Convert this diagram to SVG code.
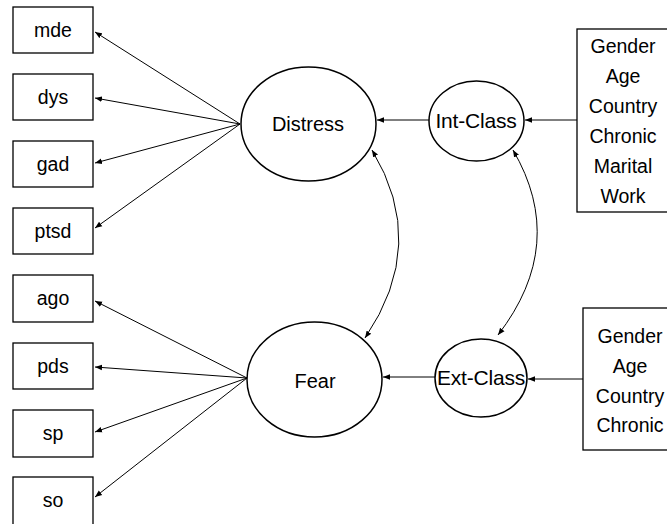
<svg xmlns="http://www.w3.org/2000/svg" width="667" height="524" viewBox="0 0 667 524">
  <defs>
    <marker id="ah" viewBox="0 0 10 10" refX="10" refY="5" markerWidth="7" markerHeight="7" markerUnits="userSpaceOnUse" orient="auto-start-reverse">
      <path d="M0,1 L10,5 L0,9 Z" fill="#000"/>
    </marker>
    <style>
      .box { fill: #fff; stroke: #000; stroke-width: 1.3; }
      .lat { fill: #fff; stroke: #000; stroke-width: 1.5; }
      .lbl { font-family: "Liberation Sans", Arial, sans-serif; font-size: 19.5px; fill: #000; text-anchor: middle; }
      .big { font-size: 20px; }
      .cls { font-size: 21px; letter-spacing: -0.2px; }
      .edge { fill: none; stroke: #000; stroke-width: 1; marker-end: url(#ah); }
      .both { marker-start: url(#ah); }
    </style>
  </defs>

  <!-- connectors -->
  <g id="connectors">
    <line class="edge" x1="240" y1="124" x2="95" y2="32"/>
    <line class="edge" x1="240" y1="124" x2="95" y2="98"/>
    <line class="edge" x1="240" y1="124" x2="95" y2="163"/>
    <line class="edge" x1="240" y1="124" x2="95" y2="228"/>
    <line class="edge" x1="247" y1="378" x2="95" y2="301"/>
    <line class="edge" x1="247" y1="378" x2="95" y2="367"/>
    <line class="edge" x1="247" y1="378" x2="95" y2="432"/>
    <line class="edge" x1="247" y1="378" x2="95" y2="497"/>
    <line class="edge" x1="429" y1="120" x2="377" y2="120"/>
    <line class="edge" x1="435" y1="377" x2="383" y2="377"/>
    <line class="edge" x1="577" y1="120" x2="525" y2="120"/>
    <line class="edge" x1="583" y1="379" x2="528" y2="379"/>
    <path class="edge both" d="M372,150 Q429,244 365,338"/>
    <path class="edge both" d="M513,150 Q568,244 498,335"/>
  </g>

  <!-- observed indicators -->
  <g id="mde"><rect class="box" x="13" y="7" width="80" height="46"/><text class="lbl" x="53" y="37">mde</text></g>
  <g id="dys"><rect class="box" x="13" y="74" width="80" height="46"/><text class="lbl" x="53" y="104">dys</text></g>
  <g id="gad"><rect class="box" x="13" y="141" width="80" height="46"/><text class="lbl" x="53" y="171">gad</text></g>
  <g id="ptsd"><rect class="box" x="13" y="208" width="80" height="46"/><text class="lbl" x="53" y="238">ptsd</text></g>
  <g id="ago"><rect class="box" x="13" y="275" width="80" height="47"/><text class="lbl" x="53" y="305">ago</text></g>
  <g id="pds"><rect class="box" x="13" y="343" width="80" height="46"/><text class="lbl" x="53" y="373">pds</text></g>
  <g id="sp"><rect class="box" x="13" y="410" width="80" height="47"/><text class="lbl" x="53" y="440">sp</text></g>
  <g id="so"><rect class="box" x="13" y="477" width="80" height="50"/><text class="lbl" x="53" y="507">so</text></g>

  <!-- latent factors -->
  <g id="distress"><ellipse class="lat" cx="308.5" cy="124" rx="67.5" ry="57"/><text class="lbl big" x="308" y="131">Distress</text></g>
  <g id="fear"><ellipse class="lat" cx="314.5" cy="379.5" rx="67.5" ry="57.5"/><text class="lbl big" x="315" y="388">Fear</text></g>
  <g id="int-class"><ellipse class="lat" cx="476.5" cy="121" rx="47.5" ry="40"/><text class="lbl cls" x="476" y="128">Int-Class</text></g>
  <g id="ext-class"><ellipse class="lat" cx="481" cy="378" rx="46" ry="39"/><text class="lbl cls" x="481" y="385">Ext-Class</text></g>

  <!-- covariates -->
  <g id="covariates-int">
    <rect class="box" x="577" y="29" width="100" height="183"/>
    <text class="lbl" x="623" y="53">Gender</text>
    <text class="lbl" x="623" y="83">Age</text>
    <text class="lbl" x="623" y="113">Country</text>
    <text class="lbl" x="623" y="143">Chronic</text>
    <text class="lbl" x="623" y="173">Marital</text>
    <text class="lbl" x="623" y="203">Work</text>
  </g>
  <g id="covariates-ext">
    <rect class="box" x="583" y="308" width="100" height="142"/>
    <text class="lbl" x="630" y="343">Gender</text>
    <text class="lbl" x="630" y="373">Age</text>
    <text class="lbl" x="630" y="403">Country</text>
    <text class="lbl" x="630" y="432">Chronic</text>
  </g>
</svg>
